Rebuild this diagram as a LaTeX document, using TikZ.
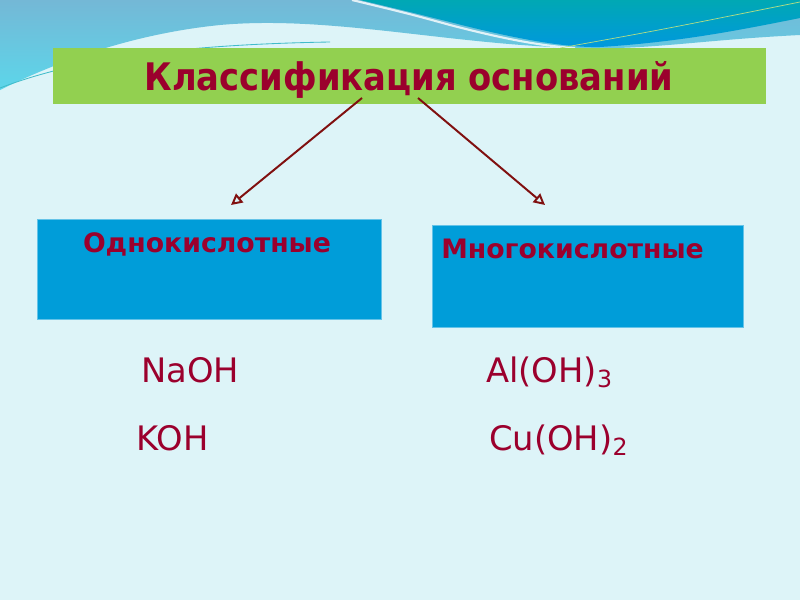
\documentclass[tikz,border=0pt]{standalone}
\usepackage{fontspec}
\setmainfont{DejaVu Sans}
\usetikzlibrary{arrows.meta}
\definecolor{pagebg}{RGB}{221,244,248}
\definecolor{wavetop}{RGB}{116,184,214}
\definecolor{wavelow}{RGB}{92,214,234}
\definecolor{tealtop}{RGB}{0,168,180}
\definecolor{teallow}{RGB}{0,152,222}
\definecolor{titlegreen}{RGB}{146,208,80}
\definecolor{boxblue}{RGB}{0,157,217}
\definecolor{boxedge}{RGB}{100,195,232}
\definecolor{inkred}{RGB}{155,0,45}
\definecolor{arrowred}{RGB}{128,16,16}
\begin{document}
\begin{tikzpicture}[x=0.025cm, y=-0.025cm,
    kindbox/.style={fill=boxblue, draw=boxedge, line width=0.5pt, inner sep=0pt},
    kindtext/.style={text=inkred, font=\fontsize{19}{19}\selectfont\bfseries, inner sep=0pt},
    formula/.style={text=inkred, font=\fontsize{24}{24}\selectfont, inner sep=0pt, anchor=base west},
    conn/.style={draw=arrowred, line width=1.4pt, -{Triangle[open, length=8pt, width=8pt]}}]
    \useasboundingbox (0,0) rectangle (800,600);
    \fill[pagebg] (0,0) rectangle (800,600);

    \shade[top color=wavetop, bottom color=wavelow] (0,0) -- (800,0) -- (800,35)
        .. controls (700,40) and (650,50) .. (580,48)
        .. controls (450,45) and (330,15) .. (220,25)
        .. controls (120,35) and (40,70) .. (0,90) -- cycle;
    \shade[top color=tealtop, bottom color=teallow] (360,0) -- (800,0) -- (800,18)
        .. controls (740,30) and (680,42) .. (600,47)
        .. controls (560,48) and (500,35) .. (450,22)
        .. controls (410,12) .. (360,0) -- cycle;
    \draw[white, line width=1.5pt, opacity=0.8] (352,0) .. controls (410,14) .. (450,25)
        .. controls (500,38) and (540,46) .. (575,48);
    \draw[wavelow!70!teal, line width=0.6pt] (0,88) .. controls (60,65) and (150,45) .. (330,42);
    \draw[titlegreen!70!white, line width=0.5pt] (560,48) .. controls (660,30) .. (800,2);

    \fill[titlegreen] (53,48) rectangle (766,104);
    \node[text=inkred, font=\fontsize{27}{27}\selectfont\bfseries, inner sep=0pt, anchor=base]
        (title) at (409,90) {\scalebox{0.89}[1]{Классификация оснований}};

    \node[kindbox, minimum width=8.6cm, minimum height=2.5cm] (mono) at (209,269) {};
    \node[kindbox, minimum width=7.775cm, minimum height=2.55cm] (poly) at (587.5,276) {};
    \node[kindtext, anchor=base] (monolbl) at (207,252) {Однокислотные};
    \node[kindtext, anchor=base west] (polylbl) at (441,258) {Многокислотные};

    \coordinate (monotip) at (231,205);
    \coordinate (polytip) at (545,205);
    \coordinate (monofoot) at (362,98);
    \coordinate (polyfoot) at (418,98);
    \draw[conn] (monofoot) -- (monotip);
    \draw[conn] (polyfoot) -- (polytip);

    \node[formula] (naoh) at (141,382) {NaOH};
    \node[formula] (koh) at (136,450) {KOH};
    \node[formula] (aloh) at (486,382) {Al(OH)\textsubscript{3}};
    \node[formula] (cuoh) at (489,450) {Cu(OH)\textsubscript{2}};
\end{tikzpicture}
\end{document}
